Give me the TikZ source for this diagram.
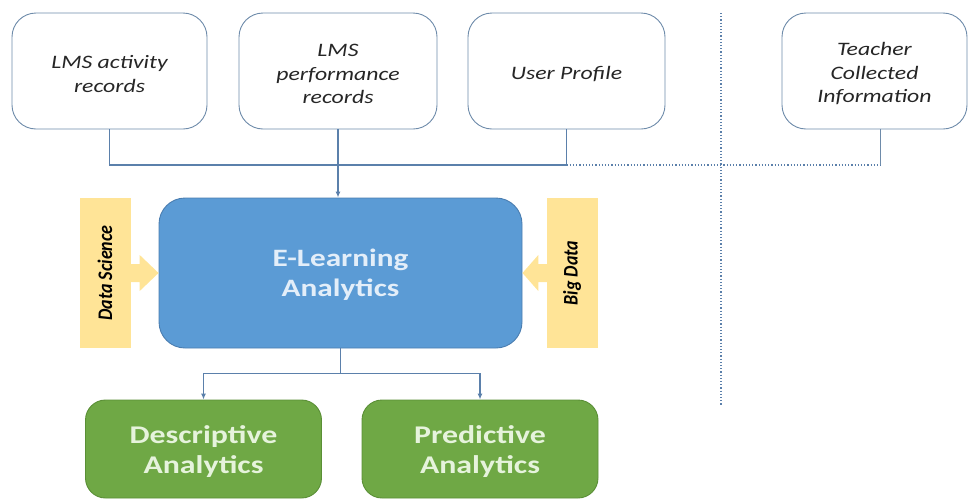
\documentclass[tikz,border=0pt]{standalone}
\usepackage{fontspec}
\setmainfont{Carlito}[FakeStretch=1.25]
\newfontfamily\barfont{Carlito}
\usetikzlibrary{calc,arrows.meta}
\definecolor{boxline}{HTML}{6E8BAA}
\definecolor{conn}{HTML}{5B80AB}
\definecolor{bluefill}{HTML}{5B9BD5}
\definecolor{blueline}{HTML}{4A7DB0}
\definecolor{greenfill}{HTML}{6FA845}
\definecolor{greenline}{HTML}{5A8F36}
\definecolor{yellowfill}{HTML}{FFE497}
\definecolor{darktext}{HTML}{262626}
\definecolor{bluetext}{HTML}{E3EEF9}
\definecolor{greentext}{HTML}{E6F3DC}
\newcommand{\bartxt}[1]{\scalebox{1}[1.15]{\barfont\bfseries\itshape\fontsize{18}{20}\selectfont #1}}
\tikzset{
  srcbox/.style={draw=boxline, line width=0.9pt, rounded corners=24pt, fill=white,
    minimum height=116pt, inner sep=0pt},
  srctext/.style={yshift=-3pt, align=center, text=darktext, inner sep=0pt,
    font=\itshape\fontsize{19}{23.5}\selectfont},
  mainbox/.style={draw=blueline, line width=0.9pt, fill=bluefill, rounded corners=26pt,
    minimum width=363pt, minimum height=150pt},
  maintext/.style={yshift=-2pt, align=center, text=bluetext, inner sep=0pt,
    font=\bfseries\fontsize{25}{30}\selectfont},
  outbox/.style={draw=greenline, line width=0.9pt, fill=greenfill, rounded corners=20pt,
    minimum width=236pt, minimum height=98pt},
  outtext/.style={yshift=-3pt, align=center, text=greentext, inner sep=0pt,
    font=\bfseries\fontsize{25.5}{30}\selectfont},
  barbox/.style={fill=yellowfill, minimum width=51pt, minimum height=150pt, inner sep=0pt},
  bartext/.style={rotate=90, text=black, inner sep=0pt},
  link/.style={draw=conn, line width=1.2pt},
  tip/.style={-{Latex[length=6pt,width=5pt]}},
  dots/.style={draw=conn, line width=1.2pt, dotted}
}
\begin{document}
\begin{tikzpicture}[x=1pt,y=-1pt]
\useasboundingbox (0,0) rectangle (968,501);
% source boxes
\node[srcbox, minimum width=195pt, label={[srctext]center:LMS activity\\records}] (b1) at (109.5,71) {};
\node[srcbox, minimum width=198pt, label={[srctext]center:LMS\\performance\\records}] (b2) at (338,71) {};
\node[srcbox, minimum width=197pt, label={[srctext]center:User Profile}] (b3) at (566.5,71) {};
\node[srcbox, minimum width=185pt, label={[srctext]center:Teacher\\Collected\\Information}] (b4) at (874.5,71) {};
% divider
\coordinate (vt) at (721,13);
\coordinate (vb) at (721,405);
\draw[dots] (vt) -- (vb);
% central box and side bars
\node[mainbox, label={[maintext]center:E-Learning\\Analytics}] (el) at (340.5,273) {};
\node[barbox] (ds) at (105,273) {};
\node[bartext] (dst) at (ds.center) {\bartxt{Data Science}};
\node[barbox] (bd) at (572,273) {};
\node[bartext] (bdt) at (bd.center) {\bartxt{Big Data}};
% block arrows
\fill[yellowfill] ($(ds.east)+(-1,-9)$) -- ($(ds.east)+(9,-9)$) -- ($(ds.east)+(9,-18)$)
  -- (el.west) -- ($(ds.east)+(9,18)$) -- ($(ds.east)+(9,9)$) -- ($(ds.east)+(-1,9)$) -- cycle;
\fill[yellowfill] ($(bd.west)+(1,-9)$) -- ($(bd.west)+(-8,-9)$) -- ($(bd.west)+(-8,-18)$)
  -- (el.east) -- ($(bd.west)+(-8,18)$) -- ($(bd.west)+(-8,9)$) -- ($(bd.west)+(1,9)$) -- cycle;
% output boxes
\node[outbox, label={[outtext]center:Descriptive\\Analytics}] (d) at (203.5,449) {};
\node[outbox, label={[outtext]center:Predictive\\Analytics}] (p) at (480,449) {};
% source connectors
\coordinate (bus) at (0,165);
\draw[link] (b1.south) -- (b1.south |- bus) -- (b3.south |- bus) -- (b3.south);
\draw[dots] (b3.south |- bus) -- ($(b4.south |- bus)+(6,0)$);
\draw[draw=boxline, line width=0.8pt] ($(b4.south)+(6,0)$) -- ($(b4.south |- bus)+(6,0)$);
\draw[link, tip] (b2.south) -- (b2.south |- el.north);
% output connectors
\draw[link] (el.south) -- ++(0,25) coordinate (split);
\draw[link, tip] (split) -| (d.north);
\draw[link, tip] (split) -| (p.north);
\end{tikzpicture}
\end{document}
